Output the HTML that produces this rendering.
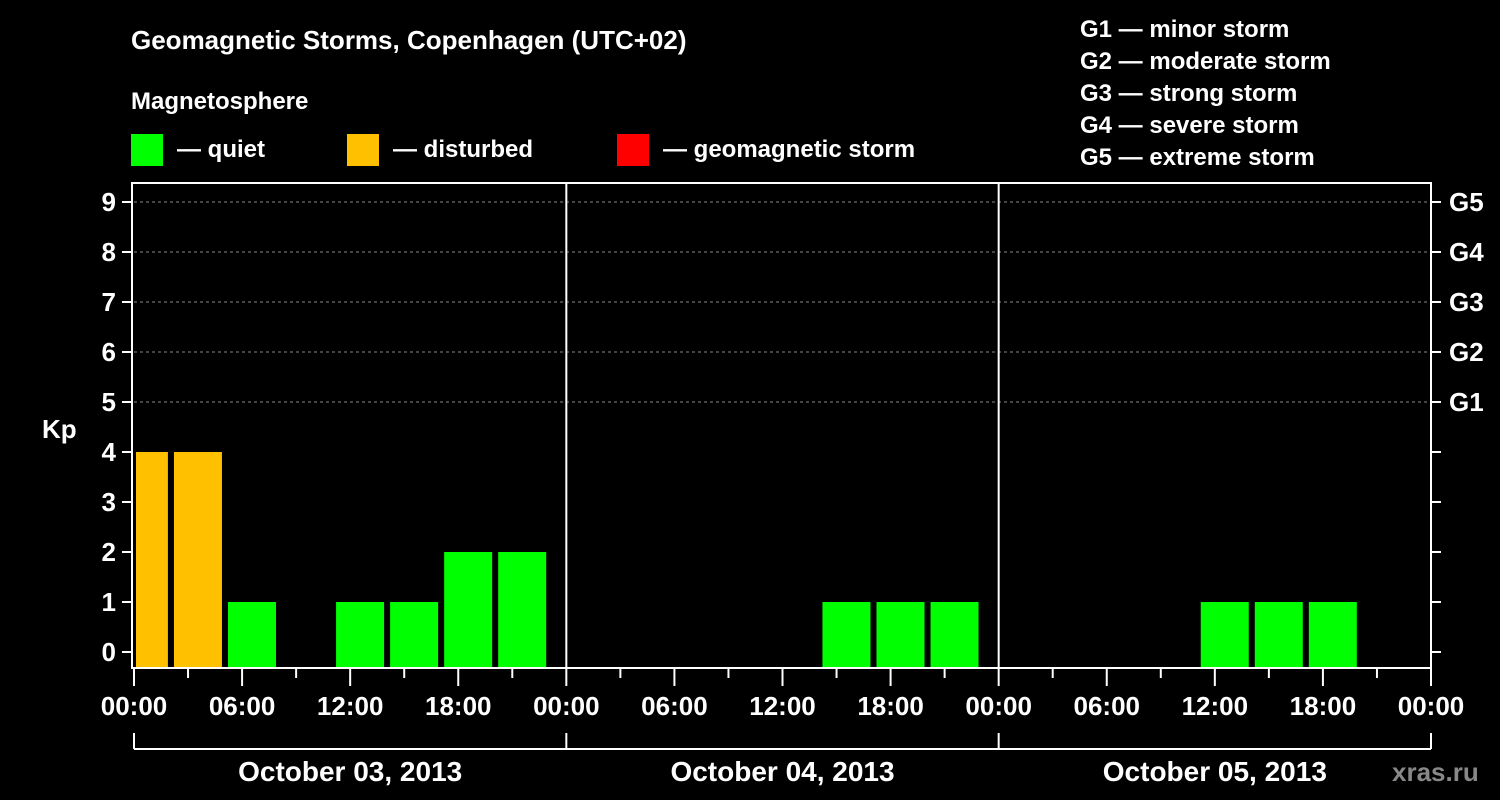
<!DOCTYPE html>
<html><head><meta charset="utf-8"><style>
html,body{margin:0;padding:0;background:#000;}
svg{display:block;font-family:"Liberation Sans",Arial,sans-serif;font-weight:bold;}
</style></head><body>
<svg id="chart" width="1500" height="800" viewBox="0 0 1500 800">
<rect width="1500" height="800" fill="#000"/>
<text x="131" y="49" fill="#fff" font-size="26">Geomagnetic Storms, Copenhagen (UTC+02)</text>
<text x="131" y="109" fill="#fff" font-size="24">Magnetosphere</text>
<g><rect x="131" y="134" width="32" height="32" fill="#00ff00"/><text x="177" y="157" fill="#fff" font-size="24">— quiet</text></g>
<g><rect x="347" y="134" width="32" height="32" fill="#ffc000"/><text x="393" y="157" fill="#fff" font-size="24">— disturbed</text></g>
<g><rect x="617" y="134" width="32" height="32" fill="#ff0000"/><text x="663" y="157" fill="#fff" font-size="24">— geomagnetic storm</text></g>
<g fill="#fff" font-size="24">
<text x="1080" y="37">G1 — minor storm</text>
<text x="1080" y="69">G2 — moderate storm</text>
<text x="1080" y="101">G3 — strong storm</text>
<text x="1080" y="133">G4 — severe storm</text>
<text x="1080" y="165">G5 — extreme storm</text>
</g>
<g id="grid"></g>
<g id="bars"></g>
<g id="axes"></g>
<text x="42" y="438" fill="#fff" font-size="26">Kp</text>
<text x="1392" y="781" fill="#888" font-size="26">xras.ru</text>
</svg>
<script>
const days = ["October 03, 2013","October 04, 2013","October 05, 2013"];
const kpDay1 = [4,4,1,null,1,1,2,2];
const kpDay2 = [null,null,null,null,null,1,1,1];
const kpDay3 = [null,null,null,null,1,1,1,null];
const yTicks = [0,1,2,3,4,5,6,7,8,9];
const gLabels = ["G1","G2","G3","G4","G5"];
const xLabels = ["00:00","06:00","12:00","18:00"];

const NS="http://www.w3.org/2000/svg";
const L=134,R=1431,T=183,B=668;
const dayW=(R-L)/3;
const xH=h=>L+h*dayW/24;
const yK=k=>652-k*50;
function mk(tag,attrs,parent){const e=document.createElementNS(NS,tag);for(const k in attrs)e.setAttribute(k,attrs[k]);parent.appendChild(e);return e;}
const grid=document.getElementById('grid'),bars=document.getElementById('bars'),axes=document.getElementById('axes');

// grid lines for storm levels
for(let k=5;k<=9;k++){
  const l=mk('line',{x1:L,x2:R,y1:yK(k),y2:yK(k),stroke:'#888','stroke-width':1,'stroke-dasharray':'3,3'},grid);
  
  
}
// day separators
for(let d=1;d<3;d++){
  const l=mk('line',{x1:L+d*dayW,x2:L+d*dayW,y1:T,y2:B,stroke:'#fff','stroke-width':2},grid);
  
  
}
// bars
const series=[kpDay1,kpDay2,kpDay3];
series.forEach((arr,d)=>{
  arr.forEach((v,i)=>{
    if(v===null)return;
    const cx=xH(d*24+i*3+0.55);
    let x0=Math.max(cx-24,136),x1=cx+24;
    const col=v>=5?'#ff0000':(v>=4?'#ffc000':'#00ff00');
    const r=mk('rect',{x:x0,y:yK(v),width:x1-x0,height:667-yK(v),fill:col},bars);
    
    
  });
});
// plot frame
const f=mk('rect',{x:132,y:T,width:R-132,height:B-T,fill:'none',stroke:'#fff','stroke-width':2},axes);


// y ticks
yTicks.forEach(k=>{
  mk('line',{x1:122,x2:132,y1:yK(k),y2:yK(k),stroke:'#fff','stroke-width':2},axes);
  mk('line',{x1:R,x2:R+10,y1:yK(k),y2:yK(k),stroke:'#fff','stroke-width':2},axes);
  const t=mk('text',{x:116,y:yK(k)+9,fill:'#fff','font-size':26,'text-anchor':'end'},axes);
  t.textContent=k;
  
  
});
gLabels.forEach((g,i)=>{
  const t=mk('text',{x:1449,y:yK(i+5)+9,fill:'#fff','font-size':26},axes);
  t.textContent=g;
  
  
});
// x ticks
for(let s=0;s<=24;s++){
  const x=xH(s*3),major=s%2===0;
  mk('line',{x1:x,x2:x,y1:B,y2:major?686:678,stroke:'#fff','stroke-width':2},axes);
  if(major){
    const lab=s===24?"00:00":xLabels[(s%8)/2];
    const t=mk('text',{x:x,y:715,fill:'#fff','font-size':26,'text-anchor':'middle'},axes);
    t.textContent=lab;
    
    
  }
}
// day brackets
mk('line',{x1:L,x2:R,y1:749,y2:749,stroke:'#fff','stroke-width':2},axes);
for(let d=0;d<=3;d++){mk('line',{x1:L+d*dayW,x2:L+d*dayW,y1:733,y2:749,stroke:'#fff','stroke-width':2},axes);}
days.forEach((dl,d)=>{
  const t=mk('text',{x:L+(d+0.5)*dayW,y:781,fill:'#fff','font-size':28,'text-anchor':'middle'},axes);
  t.textContent=dl;
  
  
});
</script>
</body></html>
